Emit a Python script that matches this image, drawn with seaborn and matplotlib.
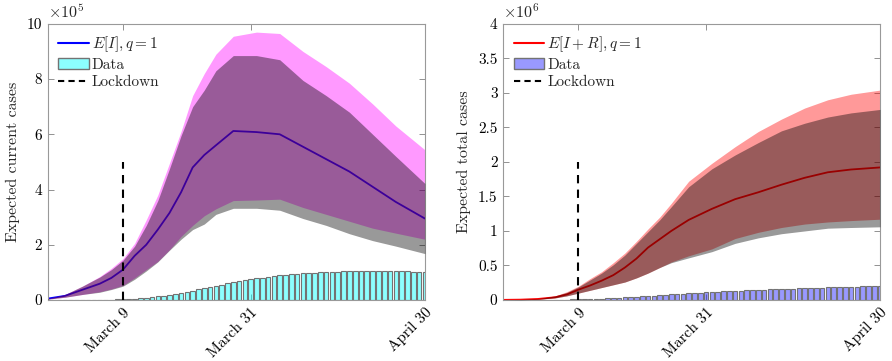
import numpy as np
import pandas as pd
import matplotlib
matplotlib.use("Agg")
import matplotlib.pyplot as plt
from matplotlib.patches import Patch
from matplotlib.lines import Line2D
from matplotlib.ticker import FuncFormatter
import seaborn as sns

sns.set_theme(style="white")
plt.rcParams['font.family'] = ['cmr10', 'DejaVu Serif']
plt.rcParams['mathtext.fontset'] = 'cm'
plt.rcParams['axes.formatter.use_mathtext'] = True

# day 0 = Feb 25, day 65 = April 30
curve_days = [0, 3, 6, 9, 11, 13, 15, 17, 19, 21, 23, 25, 27, 29, 32, 36, 40, 44, 48, 52, 56, 60, 65]
tick_days = [13, 35, 65]
tick_labels = ["March 9", "March 31", "April 30"]
lockdown_day = 13

# current cases, x1e5
cur_mean = [0.05, 0.15, 0.37, 0.59, 0.8, 1.1, 1.6, 2.0, 2.55, 3.15, 3.9, 4.8, 5.25, 5.6, 6.12, 6.08, 6.0, 5.55, 5.1, 4.65, 4.1, 3.55, 2.95]
cur_up_q = [0.05, 0.2, 0.5, 0.85, 1.15, 1.5, 2.05, 2.9, 3.8, 4.95, 6.1, 7.4, 8.2, 8.9, 9.55, 9.7, 9.65, 9.0, 8.45, 7.85, 7.1, 6.3, 5.44]
cur_lo_q = [0.03, 0.1, 0.2, 0.3, 0.4, 0.53, 0.8, 1.1, 1.4, 1.82, 2.3, 2.7, 3.05, 3.3, 3.6, 3.62, 3.65, 3.35, 3.1, 2.85, 2.6, 2.42, 2.2]
cur_up_g = [0.05, 0.2, 0.5, 0.83, 1.1, 1.44, 1.95, 2.7, 3.6, 4.75, 5.95, 7.0, 7.6, 8.3, 8.85, 8.85, 8.7, 7.95, 7.4, 6.8, 6.0, 5.2, 4.22]
cur_lo_g = [0.03, 0.1, 0.2, 0.28, 0.38, 0.5, 0.75, 1.05, 1.38, 1.8, 2.2, 2.55, 2.75, 3.1, 3.32, 3.32, 3.25, 2.95, 2.7, 2.4, 2.15, 1.95, 1.68]

# total cases, x1e6
tot_mean = [0.002, 0.005, 0.015, 0.04, 0.08, 0.15, 0.21, 0.28, 0.36, 0.47, 0.6, 0.76, 0.88, 1.0, 1.16, 1.32, 1.46, 1.56, 1.67, 1.77, 1.85, 1.89, 1.92]
tot_up_q = [0.002, 0.007, 0.02, 0.06, 0.12, 0.2, 0.31, 0.41, 0.54, 0.68, 0.85, 1.03, 1.2, 1.4, 1.72, 1.98, 2.22, 2.44, 2.62, 2.78, 2.9, 2.98, 3.04]
tot_lo_q = [0.001, 0.003, 0.01, 0.03, 0.06, 0.1, 0.14, 0.18, 0.22, 0.26, 0.32, 0.39, 0.47, 0.55, 0.64, 0.74, 0.89, 0.98, 1.05, 1.1, 1.13, 1.15, 1.17]
tot_up_g = [0.002, 0.007, 0.02, 0.06, 0.11, 0.19, 0.29, 0.39, 0.51, 0.65, 0.82, 0.99, 1.16, 1.35, 1.64, 1.9, 2.1, 2.28, 2.45, 2.56, 2.65, 2.71, 2.76]
tot_lo_g = [0.001, 0.003, 0.01, 0.03, 0.06, 0.1, 0.14, 0.18, 0.22, 0.26, 0.32, 0.39, 0.47, 0.54, 0.61, 0.7, 0.82, 0.9, 0.96, 1.0, 1.04, 1.05, 1.06]

# daily data bars
bar_days = list(range(66))
cur_data = [0.001, 0.001, 0.001, 0.002, 0.002, 0.003, 0.004, 0.005, 0.007, 0.01, 0.013, 0.017, 0.022, 0.03,
            0.04, 0.05, 0.065, 0.08, 0.1, 0.13, 0.16, 0.19, 0.22, 0.26, 0.29, 0.33, 0.38, 0.43, 0.48, 0.52,
            0.56, 0.6, 0.64, 0.68, 0.72, 0.75, 0.78, 0.81, 0.84, 0.87, 0.89, 0.91, 0.93, 0.95, 0.97, 0.98,
            0.99, 1.0, 1.01, 1.02, 1.03, 1.04, 1.05, 1.055, 1.06, 1.065, 1.065, 1.06, 1.06, 1.055, 1.05,
            1.04, 1.035, 1.03, 1.02, 1.01]
tot_data = [0.0005, 0.0006, 0.0008, 0.001, 0.0012, 0.0015, 0.002, 0.002, 0.003, 0.004, 0.005, 0.006, 0.008,
            0.01, 0.012, 0.015, 0.018, 0.021, 0.025, 0.03, 0.035, 0.04, 0.045, 0.05, 0.055, 0.06, 0.065,
            0.07, 0.075, 0.08, 0.085, 0.09, 0.095, 0.1, 0.105, 0.11, 0.115, 0.12, 0.124, 0.128, 0.132,
            0.136, 0.14, 0.143, 0.146, 0.149, 0.152, 0.155, 0.158, 0.161, 0.164, 0.167, 0.17, 0.173,
            0.176, 0.179, 0.182, 0.184, 0.187, 0.189, 0.192, 0.195, 0.197, 0.199, 0.201, 0.203]

fig = plt.figure(figsize=(8.92, 3.61), dpi=100)
ax1 = fig.add_axes([0.0533, 0.169, 0.423, 0.765])
ax2 = fig.add_axes([0.564, 0.169, 0.4226, 0.765])

panels = [
    (ax1, 1e5, cur_mean, cur_up_q, cur_lo_q, cur_up_g, cur_lo_g, cur_data,
     (1, 0, 1), (0, 0, 1), (0, 1, 1), 0.45, 1e6, 2e5, 5e5, 5,
     r"$E[I], q=1$", "Expected current cases"),
    (ax2, 1e6, tot_mean, tot_up_q, tot_lo_q, tot_up_g, tot_lo_g, tot_data,
     (1, 0, 0), (1, 0, 0), (0, 0, 1), 0.4, 4e6, 5e5, 2e6, 6,
     r"$E[I+R], q=1$", "Expected total cases"),
]

for (ax, scale, mean, upq, loq, upg, log_, data, band_c, line_c, bar_c, bar_a,
     ymax, ystep, lock_top, expo, line_lab, ylab) in panels:
    df = pd.DataFrame({"day": curve_days, "mean": np.array(mean) * scale,
                       "upq": np.array(upq) * scale, "loq": np.array(loq) * scale,
                       "upg": np.array(upg) * scale, "log": np.array(log_) * scale})
    sns.lineplot(data=df, x="day", y="mean", ax=ax, color=line_c, lw=1.3, zorder=1)
    ax.fill_between(df["day"], df["loq"], df["upq"], color=band_c, alpha=0.4, lw=0, zorder=2)
    ax.fill_between(df["day"], df["log"], df["upg"], color="black", alpha=0.4, lw=0, zorder=3)
    ax.bar(bar_days, np.array(data) * scale, width=0.8,
           facecolor=(*bar_c, bar_a), edgecolor="0.45", lw=0.8, zorder=2)
    ax.plot([lockdown_day, lockdown_day], [0, lock_top], color="black", ls=(0, (4, 3)),
            lw=1.5, zorder=5)

    ax.set_xlim(0, 65)
    ax.set_ylim(0, ymax)
    ax.set_xticks(tick_days)
    ax.set_xticklabels(tick_labels, rotation=45, ha="right", rotation_mode="anchor")
    ax.set_yticks(np.arange(0, ymax + 1, ystep))
    ax.yaxis.set_major_formatter(FuncFormatter(lambda v, _, s=10 ** expo: f"{v / s:g}"))
    ax.text(0.0, 1.01, r"$\times10^{%d}$" % expo, transform=ax.transAxes,
            ha="left", va="bottom", fontsize=11.5)
    ax.set_xlabel("")
    ax.set_ylabel(ylab, fontsize=11.5, labelpad=5)
    ax.tick_params(direction="in", top=True, right=True, bottom=True, left=True,
                   length=4, width=0.6, color="0.5", labelsize=11, labelcolor="black", pad=4)
    for sp in ax.spines.values():
        sp.set_visible(True)
        sp.set_color("0.6")
        sp.set_linewidth(0.8)

    handles = [Line2D([0], [0], color=line_c, lw=1.5),
               Patch(facecolor=(*bar_c, bar_a), edgecolor="0.45"),
               Line2D([0], [0], color="black", ls=(0, (3, 2)), lw=1.5)]
    ax.legend(handles, [line_lab, "Data", "Lockdown"], loc="upper left", frameon=False,
              fontsize=11, handlelength=2.0, handletextpad=0.2, labelspacing=0.25,
              borderaxespad=0.3, bbox_to_anchor=(0.0, 1.0))

fig.savefig("out.png", dpi=100)
